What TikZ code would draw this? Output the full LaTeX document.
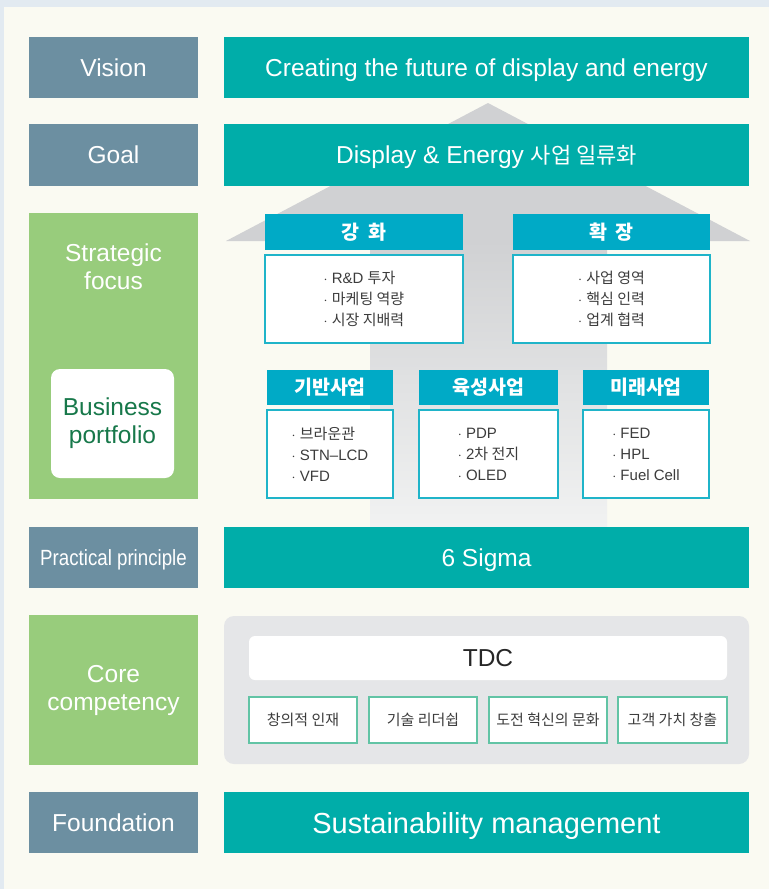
\documentclass[tikz,border=0pt]{standalone}
\usepackage{fontspec}
\setmainfont{Liberation Sans}
\newfontfamily\narrowfont[FakeStretch=0.85]{Liberation Sans}
\newfontfamily\kr{Noto Sans CJK KR}
\usetikzlibrary{positioning}
\usetikzlibrary{calc}

\definecolor{outerblue}{HTML}{E2EAF1}
\definecolor{cream}{HTML}{FAFAF2}
\definecolor{slate}{HTML}{6C8FA1}
\definecolor{teal}{HTML}{00ADA9}
\definecolor{leaf}{HTML}{98CC7C}
\definecolor{pfgreen}{HTML}{17784A}
\definecolor{cyanhead}{HTML}{00AAC6}
\definecolor{cyanline}{HTML}{1FB4C9}
\definecolor{mint}{HTML}{62C4A5}
\definecolor{panelgrey}{HTML}{E5E6E8}
\definecolor{arrowgrey}{HTML}{D0D1D3}
\definecolor{arrowlight}{HTML}{F1F2F2}
\definecolor{ink}{HTML}{3C3C3C}

\tikzset{
  box/.style={inner sep=0pt, outer sep=0pt, align=center},
  oneline/.style={text height=17.5pt, text depth=0pt},
  lbl/.style={box, oneline, fill=slate, text=white, minimum width=169pt, minimum height=61pt,
    font=\fontsize{24.5}{28}\selectfont},
  greenbox/.style={box, fill=leaf, text=white, minimum width=169pt,
    font=\fontsize{24.5}{28}\selectfont},
  bar/.style={box, oneline, fill=teal, text=white, minimum width=525pt, minimum height=61pt,
    font=\fontsize{24.5}{28}\selectfont},
  head/.style={box, anchor=north west, fill=cyanhead, text=white, minimum height=36pt,
    font=\kr\bfseries\fontsize{19.5}{22}\selectfont},
  listbox/.style={box, fill=white, draw=cyanline, line width=2pt, minimum height=88pt,
    text=ink, align=left, font=\fontsize{15}{21}\selectfont},
  valbox/.style={box, anchor=north west, fill=white, draw=mint, line width=2pt,
    minimum height=46pt, text=ink, font=\kr\fontsize{15}{18}\selectfont}
}

\begin{document}
\begin{tikzpicture}[x=1pt, y=-1pt]
\useasboundingbox (0,0) rectangle (769,889);
\fill[outerblue] (0,0) rectangle (769,889);
\fill[cream] (4,7) rectangle (769,889);

% the big arrow behind the middle rows
\fill[arrowgrey] (226,241) -- (488,103) -- (750,241) -- cycle;
\shade[top color=arrowgrey, bottom color=arrowlight] (370,240) rectangle (607,527);

% left column
\node[lbl, anchor=north west] (vision) at (29,37) {Vision};
\node[lbl, below=26pt of vision, minimum height=62pt] (goal) {Goal};
\node[greenbox, below=27pt of goal, minimum height=286pt] (focus) {};
\node[lbl, below=28pt of focus, font=\narrowfont\fontsize{22}{26}\selectfont, text height=16pt] (practical) {Practical principle};
\node[greenbox, below=27pt of practical, minimum height=150pt] (core) {Core\\competency};
\node[lbl, below=27pt of core] (foundation) {Foundation};

\node[box, text=white, font=\fontsize{24.5}{28}\selectfont] (focustxt) at ($(focus.north)+(0,54)$) {Strategic\\focus};
\node[box, fill=white, rounded corners=9pt, minimum width=123pt, minimum height=109pt,
  text=pfgreen, font=\fontsize{24.5}{28}\selectfont] (portfolio) at (112.5,423.5) {Business\\portfolio};

% right column
\node[bar, right=26pt of vision] (visionbar) {Creating the future of display and energy};
\node[bar, right=26pt of goal, minimum height=62pt] (goalbar) {Display \& Energy {\kr\fontsize{22}{26}\selectfont 사업 일류화}};
\node[bar, right=26pt of practical] (sigma) {6 Sigma};
\node[bar, right=26pt of foundation, font=\fontsize{29}{32}\selectfont, text height=21pt] (sustain) {Sustainability management};

% strategic focus
\node[head, minimum width=198pt] (gang) at (265,214) {강\hspace{0.45em}화};
\node[listbox, minimum width=198pt, below=5pt of gang] (ganglist)
  {$\cdot$ R\&D {\kr 투자}\\$\cdot$ {\kr 마케팅 역량}\\$\cdot$ {\kr 시장 지배력}};
\node[head, minimum width=197pt] (hwak) at (513,214) {확\hspace{0.45em}장};
\node[listbox, minimum width=197pt, below=5pt of hwak] (hwaklist)
  {$\cdot$ {\kr 사업 영역}\\$\cdot$ {\kr 핵심 인력}\\$\cdot$ {\kr 업계 협력}};

% business portfolio
\node[head, minimum width=126pt, minimum height=35pt] (base) at (267,370) {기반사업};
\node[listbox, minimum width=126pt, below=5pt of base] (baselist)
  {$\cdot$ {\kr 브라운관}\\$\cdot$ STN–LCD\\$\cdot$ VFD};
\node[head, minimum width=139pt, minimum height=35pt] (grow) at (419,370) {육성사업};
\node[listbox, minimum width=139pt, below=5pt of grow] (growlist)
  {$\cdot$ PDP\\$\cdot$ 2{\kr 차 전지}\\$\cdot$ OLED};
\node[head, minimum width=126pt, minimum height=35pt] (future) at (583,370) {미래사업};
\node[listbox, minimum width=126pt, below=5pt of future] (futurelist)
  {$\cdot$ FED\\$\cdot$ HPL\\$\cdot$ Fuel Cell};

% core competency
\node[box, fill=panelgrey, rounded corners=10pt, minimum width=525pt, minimum height=148pt,
  right=26pt of core] (corepanel) {};
\node[box, oneline, fill=white, rounded corners=6pt, minimum width=478pt, minimum height=44pt,
  text=black!85, font=\fontsize{24.5}{28}\selectfont] (tdc) at (488,658) {TDC};
\node[valbox, minimum width=108pt] (val1) at (249,697) {창의적 인재};
\node[valbox, minimum width=108pt] (val2) at (369,697) {기술 리더쉽};
\node[valbox, minimum width=118pt] (val3) at (489,697) {도전 혁신의 문화};
\node[valbox, minimum width=109pt] (val4) at (618,697) {고객 가치 창출};
\end{tikzpicture}
\end{document}
